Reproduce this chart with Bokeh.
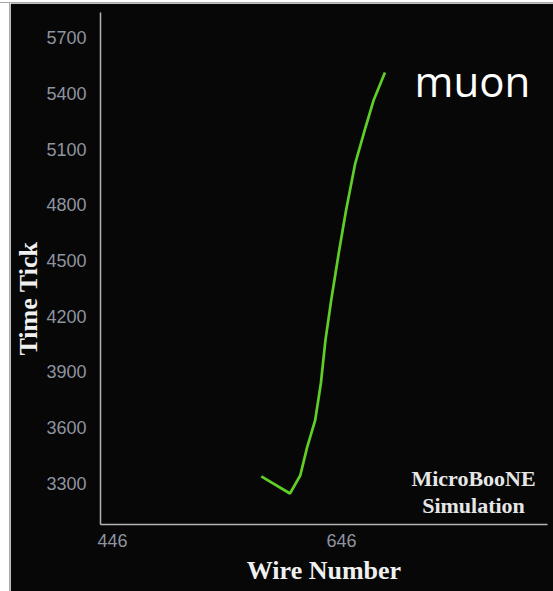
from bokeh.plotting import figure
from bokeh.models import FixedTicker, Label, Spacer, Title
from bokeh.layouts import row, column
from bokeh.embed import file_html
from bokeh.resources import INLINE

# ---- data ----
wire = [576, 601, 610, 616, 623, 628, 632, 637, 644, 650, 658, 667, 674, 684]
time_tick = [3338, 3246, 3343, 3494, 3639, 3838, 4070, 4285, 4554, 4769, 5022, 5216, 5361, 5512]
x_ticks = [446, 646]
y_ticks = [3300, 3600, 3900, 4200, 4500, 4800, 5100, 5400, 5700]
x_title = "Wire Number"
y_title = "Time Tick"
particle = "muon"
tag_lines = ["MicroBooNE", "Simulation"]

X0, X1 = 435.5, 826.0
Y0, Y1 = 3079.0, 5835.0

BG = "#070707"
p = figure(width=543, height=588, x_range=(X0, X1), y_range=(Y0, Y1),
           output_backend="svg", toolbar_location=None,
           background_fill_color=BG, border_fill_color=BG,
           min_border_left=90, min_border_right=6, min_border_top=9, min_border_bottom=67)
p.outline_line_color = BG
p.grid.visible = False

serif = "Liberation Serif"
for ax in (p.xaxis[0], p.yaxis[0]):
    ax.axis_line_color = "#b4b4b4"
    ax.axis_line_width = 1.5
    ax.major_tick_line_color = None
    ax.minor_tick_line_color = None
    ax.major_label_text_font = "Liberation Sans"
    ax.major_label_text_font_size = "18px"
    ax.major_label_text_color = "#8e94a0"
p.xaxis.ticker = FixedTicker(ticks=x_ticks)
p.yaxis.ticker = FixedTicker(ticks=y_ticks)
p.xaxis.major_label_standoff = 3
p.yaxis.major_label_standoff = 8

p.xaxis.axis_label = x_title
p.xaxis.axis_label_text_font = serif
p.xaxis.axis_label_text_font_style = "bold"
p.xaxis.axis_label_text_font_size = "26px"
p.xaxis.axis_label_text_color = "#f0f0f0"
p.xaxis.axis_label_standoff = 6

p.add_layout(Title(text=y_title, align="left", offset=169, standoff=1,
                   text_font=serif, text_font_style="bold", text_font_size="26px",
                   text_color="#f0f0f0"), "left")

p.line(wire, time_tick, line_color="#5fcf28", line_width=2.7)

# page pixel -> data helpers (page offset: 10 px left, 3 px top)
FL, FT, FW, FH = 100, 12, 447, 512
def dx(px):
    return X0 + (px - FL) / FW * (X1 - X0)
def dy(py):
    return Y1 - (py - FT) / FH * (Y1 - Y0)

p.add_layout(Label(x=dx(414), y=dy(80), text=particle,
                   text_align="left", text_baseline="alphabetic",
                   text_font="Open Sans", text_font_size="42px",
                   text_color="#ffffff"))
for i, t in enumerate(tag_lines):
    p.add_layout(Label(x=dx(473), y=dy(478 + 27 * i), text=t,
                       text_align="center", text_baseline="alphabetic",
                       text_font=serif, text_font_style="bold", text_font_size="22px",
                       text_color="#e6e6e6"))

GRAY = {"background-color": "#a8a8a8"}
top = row(Spacer(width=9, height=2), Spacer(width=544, height=1, styles=GRAY))
body = row(Spacer(width=9, height=588), Spacer(width=1, height=588, styles=GRAY), p)
layout = column(Spacer(height=2, width=553), Spacer(height=1, width=553, styles=GRAY), body)
open("out.html", "w").write(file_html(layout, INLINE))
